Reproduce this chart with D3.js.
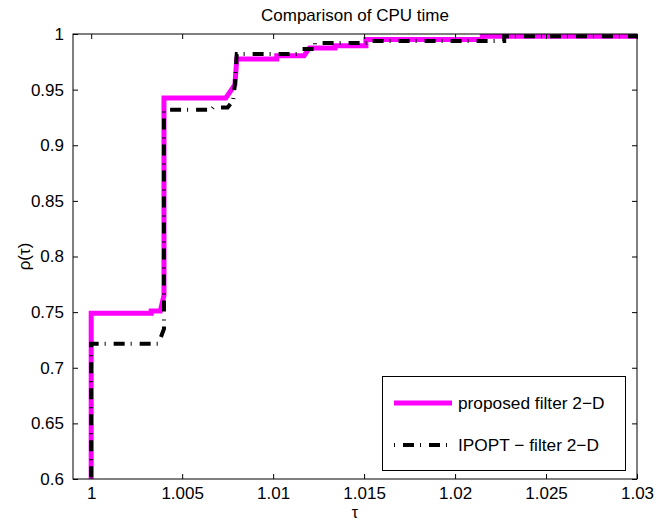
<!DOCTYPE html>
<html>
<head>
<meta charset="utf-8">
<script src="https://cdnjs.cloudflare.com/ajax/libs/d3/7.8.5/d3.min.js"></script>
<style>
    body { margin: 0; background: #fff; }
    text { font-family: "Liberation Sans", Arial, sans-serif; fill: #000; }
</style>
</head>
<body>
<svg id="chart" width="656" height="521"></svg>
<script>
// performance profile
var proposedTau = [1, 1, 1.0033, 1.0033, 1.0038, 1.004, 1.004, 1.0074, 1.0079, 1.008, 1.0102, 1.0102, 1.0117, 1.012, 1.0134, 1.0134, 1.0151, 1.0151, 1.0215, 1.0215, 1.03];
var proposedRho = [0.5, 0.749, 0.749, 0.751, 0.751, 0.765, 0.9425, 0.9425, 0.9544, 0.9775, 0.9775, 0.9805, 0.9805, 0.9875, 0.9875, 0.9895, 0.9895, 0.995, 0.995, 0.998, 0.998];

var ipoptTau = [1, 1, 1.0037, 1.004, 1.004, 1.0066, 1.0067, 1.0075, 1.0078, 1.0079, 1.008, 1.0113, 1.0116, 1.0123, 1.0123, 1.0152, 1.0152, 1.0227, 1.0227, 1.03];
var ipoptRho = [0.5, 0.7216, 0.7216, 0.735, 0.932, 0.932, 0.934, 0.934, 0.94, 0.955, 0.982, 0.982, 0.9866, 0.9866, 0.992, 0.992, 0.9938, 0.9938, 0.998, 0.998];

var xTicks = [1, 1.005, 1.01, 1.015, 1.02, 1.025, 1.03];
var xTickLabels = ["1", "1.005", "1.01", "1.015", "1.02", "1.025", "1.03"];
var yTicks = [0.6, 0.65, 0.7, 0.75, 0.8, 0.85, 0.9, 0.95, 1];
var yTickLabels = ["0.6", "0.65", "0.7", "0.75", "0.8", "0.85", "0.9", "0.95", "1"];

var seriesNames = ["proposed filter 2\u2212D", "IPOPT \u2212 filter 2\u2212D"];

var svg = d3.select("#chart");
var pLeft = 73, pRight = 637, pTop = 34, pBottom = 479;

var x = d3.scaleLinear().domain([0.999, 1.03]).range([pLeft, pRight]);
var y = d3.scaleLinear().domain([0.6, 1]).range([pBottom, pTop]);

svg.append("clipPath").attr("id", "plotclip")
    .append("rect")
    .attr("x", pLeft).attr("y", pTop)
    .attr("width", pRight - pLeft).attr("height", pBottom - pTop);

function zipPoints(ts, rs) {
    return ts.map(function(t, i) { return [t, rs[i]]; });
}

var line = d3.line()
    .x(function(d) { return x(d[0]); })
    .y(function(d) { return y(d[1]); });

var plot = svg.append("g").attr("clip-path", "url(#plotclip)");

plot.append("path")
    .datum(zipPoints(proposedTau, proposedRho))
    .attr("d", line)
    .attr("fill", "none")
    .attr("stroke", "#ff00ff")
    .attr("stroke-width", 5)
    .attr("stroke-linejoin", "miter");

plot.append("path")
    .datum(zipPoints(ipoptTau, ipoptRho))
    .attr("d", line)
    .attr("fill", "none")
    .attr("stroke", "#000")
    .attr("stroke-width", 4)
    .attr("stroke-dasharray", "1,8,11,6");

// axes (box with inward ticks on all sides)
var tickLen = 5;
var xAxisB = d3.axisBottom(x).tickValues(xTicks).tickSizeInner(-tickLen).tickSizeOuter(0)
    .tickPadding(8).tickFormat(function(d, i) { return xTickLabels[i]; });
var xAxisT = d3.axisTop(x).tickValues(xTicks).tickSizeInner(-tickLen).tickSizeOuter(0)
    .tickFormat("");
var yAxisL = d3.axisLeft(y).tickValues(yTicks).tickSizeInner(-tickLen).tickSizeOuter(0)
    .tickPadding(9).tickFormat(function(d, i) { return yTickLabels[i]; });
var yAxisR = d3.axisRight(y).tickValues(yTicks).tickSizeInner(-tickLen).tickSizeOuter(0)
    .tickFormat("");

function styleAxis(g) {
    g.select(".domain").remove();
    g.selectAll(".tick line").attr("stroke", "#000").attr("stroke-width", 1);
    g.selectAll(".tick text").style("font-size", "17px")
        .style("font-family", "'Liberation Sans', Arial, sans-serif").attr("fill", "#000");
}

svg.append("g").attr("transform", "translate(0," + pBottom + ")").call(xAxisB).call(styleAxis);
svg.append("g").attr("transform", "translate(0," + pTop + ")").call(xAxisT).call(styleAxis);
svg.append("g").attr("transform", "translate(" + pLeft + ",0)").call(yAxisL).call(styleAxis);
svg.append("g").attr("transform", "translate(" + pRight + ",0)").call(yAxisR).call(styleAxis);

svg.append("rect")
    .attr("x", pLeft).attr("y", pTop)
    .attr("width", pRight - pLeft).attr("height", pBottom - pTop)
    .attr("fill", "none").attr("stroke", "#000").attr("stroke-width", 1);

// title and labels
svg.append("text")
    .attr("x", (pLeft + pRight) / 2).attr("y", 21)
    .attr("text-anchor", "middle")
    .style("font-size", "17px")
    .text("Comparison of CPU time");

svg.append("text")
    .attr("x", (pLeft + pRight) / 2).attr("y", 518)
    .attr("text-anchor", "middle")
    .style("font-size", "16px")
    .text("\u03c4");

svg.append("text")
    .attr("transform", "translate(30," + ((pTop + pBottom) / 2) + ") rotate(-90)")
    .attr("text-anchor", "middle")
    .style("font-size", "17px")
    .text("\u03c1(\u03c4)");

// legend
var legend = svg.append("g");
legend.append("rect")
    .attr("x", 382.5).attr("y", 376.5)
    .attr("width", 243).attr("height", 94)
    .attr("fill", "#fff").attr("stroke", "#000").attr("stroke-width", 1);

var legendY = [403, 445];
legend.append("line")
    .attr("x1", 394).attr("x2", 452).attr("y1", legendY[0]).attr("y2", legendY[0])
    .attr("stroke", "#ff00ff").attr("stroke-width", 5);
legend.append("line")
    .attr("x1", 394).attr("x2", 452).attr("y1", legendY[1]).attr("y2", legendY[1])
    .attr("stroke", "#000").attr("stroke-width", 4)
    .attr("stroke-dasharray", "1,8,11,6");

legend.selectAll("text.lab")
    .data(seriesNames)
    .enter().append("text")
    .attr("class", "lab")
    .attr("x", 458)
    .attr("y", function(d, i) { return legendY[i]; })
    .attr("dy", "0.35em")
    .style("font-size", "17.3px")
    .text(function(d) { return d; });
</script>
</body>
</html>
